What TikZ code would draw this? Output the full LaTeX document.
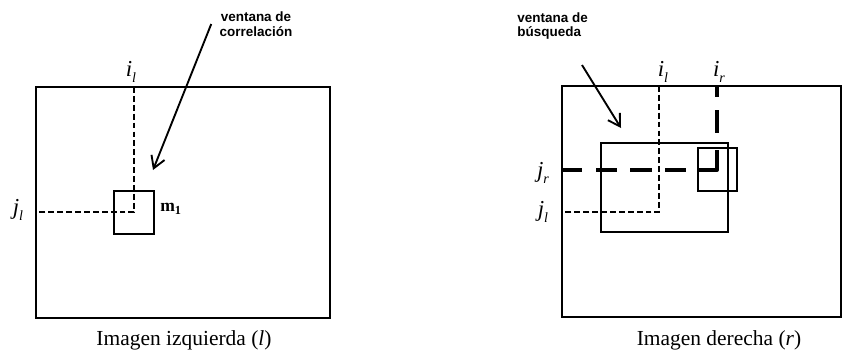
\documentclass[tikz,border=0pt]{standalone}
\usepackage{fontspec}
\setmainfont{Liberation Serif}
\newfontfamily\winfont{Liberation Sans}
\usetikzlibrary{calc}
\usetikzlibrary{arrows.meta}

\newcommand{\idx}[2]{\textit{#1}\raisebox{-0.6ex}{\fontsize{12}{12}\selectfont\textit{#2}}}

\begin{document}
\begin{tikzpicture}[x=0.03cm, y=-0.03cm,
  frame/.style={line width=1.1pt},
  thindash/.style={line width=0.9pt, dash pattern=on 5pt off 2.6pt},
  thickdash/.style={line width=3.4pt, dash pattern=on 0.6cm off 0.42cm on 0.63cm off 0.39cm on 0.66cm off 0.39cm on 0.63cm off 0.33cm on 1.2cm off 0.51cm on 0.69cm off 0.39cm on 0.4cm},
  pointer/.style={line width=1.6pt, arrows={-{Straight Barb[width=1.2em, length=1em]}}},
  wintext/.style={font=\winfont\bfseries\fontsize{11.5}{12.5}\selectfont, inner sep=1pt},
  idxlabel/.style={font=\fontsize{19.5}{20}\selectfont, inner sep=1pt},
  caption/.style={font=\fontsize{18.3}{20}\selectfont, inner sep=1pt}]
\useasboundingbox (0,0) rectangle (843,352);

% left image
\draw [frame] (36,87) rectangle (330,318);
\draw [frame] (114,191) rectangle (154,234);
\coordinate (ltop) at (134,87);
\coordinate (lcen) at (134,212);
\coordinate (lside) at (36,212);
\draw [thindash] (ltop) -- (lcen) -- (lside);

\node (il) [idxlabel] at (131,72) {\idx{i}{l}};
\node (jl) [idxlabel] at (18,210) {\idx{j}{l}};
\node (m1) [inner sep=0pt, font=\bfseries\fontsize{15}{16}\selectfont] at (171,209) {m\textsubscript{1}};

\node (corrtxt) [wintext, align=center] at (256,24) {ventana de\\correlación};
\coordinate (corrtip) at (153,170);
\draw [pointer] ([xshift=-6]corrtxt.west) -- (corrtip);

\node (lcap) [caption] at (184,340) {Imagen izquierda (\textit{l})};

% right image
\draw [frame] (562,86) rectangle (841,317);
\draw [frame] (601,143) rectangle (728,232);
\draw [frame] (698,148) rectangle (737,191);
\coordinate (rtop) at (659,86);
\coordinate (rcen) at (659,212);
\coordinate (rside) at (562,212);
\draw [thindash] (rtop) -- (rcen) -- (rside);
\coordinate (rrtop) at (717,86);
\coordinate (rrcen) at (717,170);
\coordinate (rrside) at (562,170);
\draw [thickdash, line join=round] (rrside) -- (rrcen) -- (rrtop);

\node (ril) [idxlabel] at (663,72) {\idx{i}{l}};
\node (rir) [idxlabel] at (719,72) {\idx{i}{r}};
\node (rjr) [idxlabel] at (543,173) {\idx{j}{r}};
\node (rjl) [idxlabel] at (543,212) {\idx{j}{l}};

\node (bustxt) [wintext, align=left, anchor=west] at (516,26) {ventana de\\búsqueda};
\coordinate (busstart) at (582,65);
\coordinate (bustip) at (621,128);
\draw [pointer] (busstart) -- (bustip);

\node (rcap) [caption] at (719,340) {Imagen derecha (\textit{r})};

\end{tikzpicture}
\end{document}
